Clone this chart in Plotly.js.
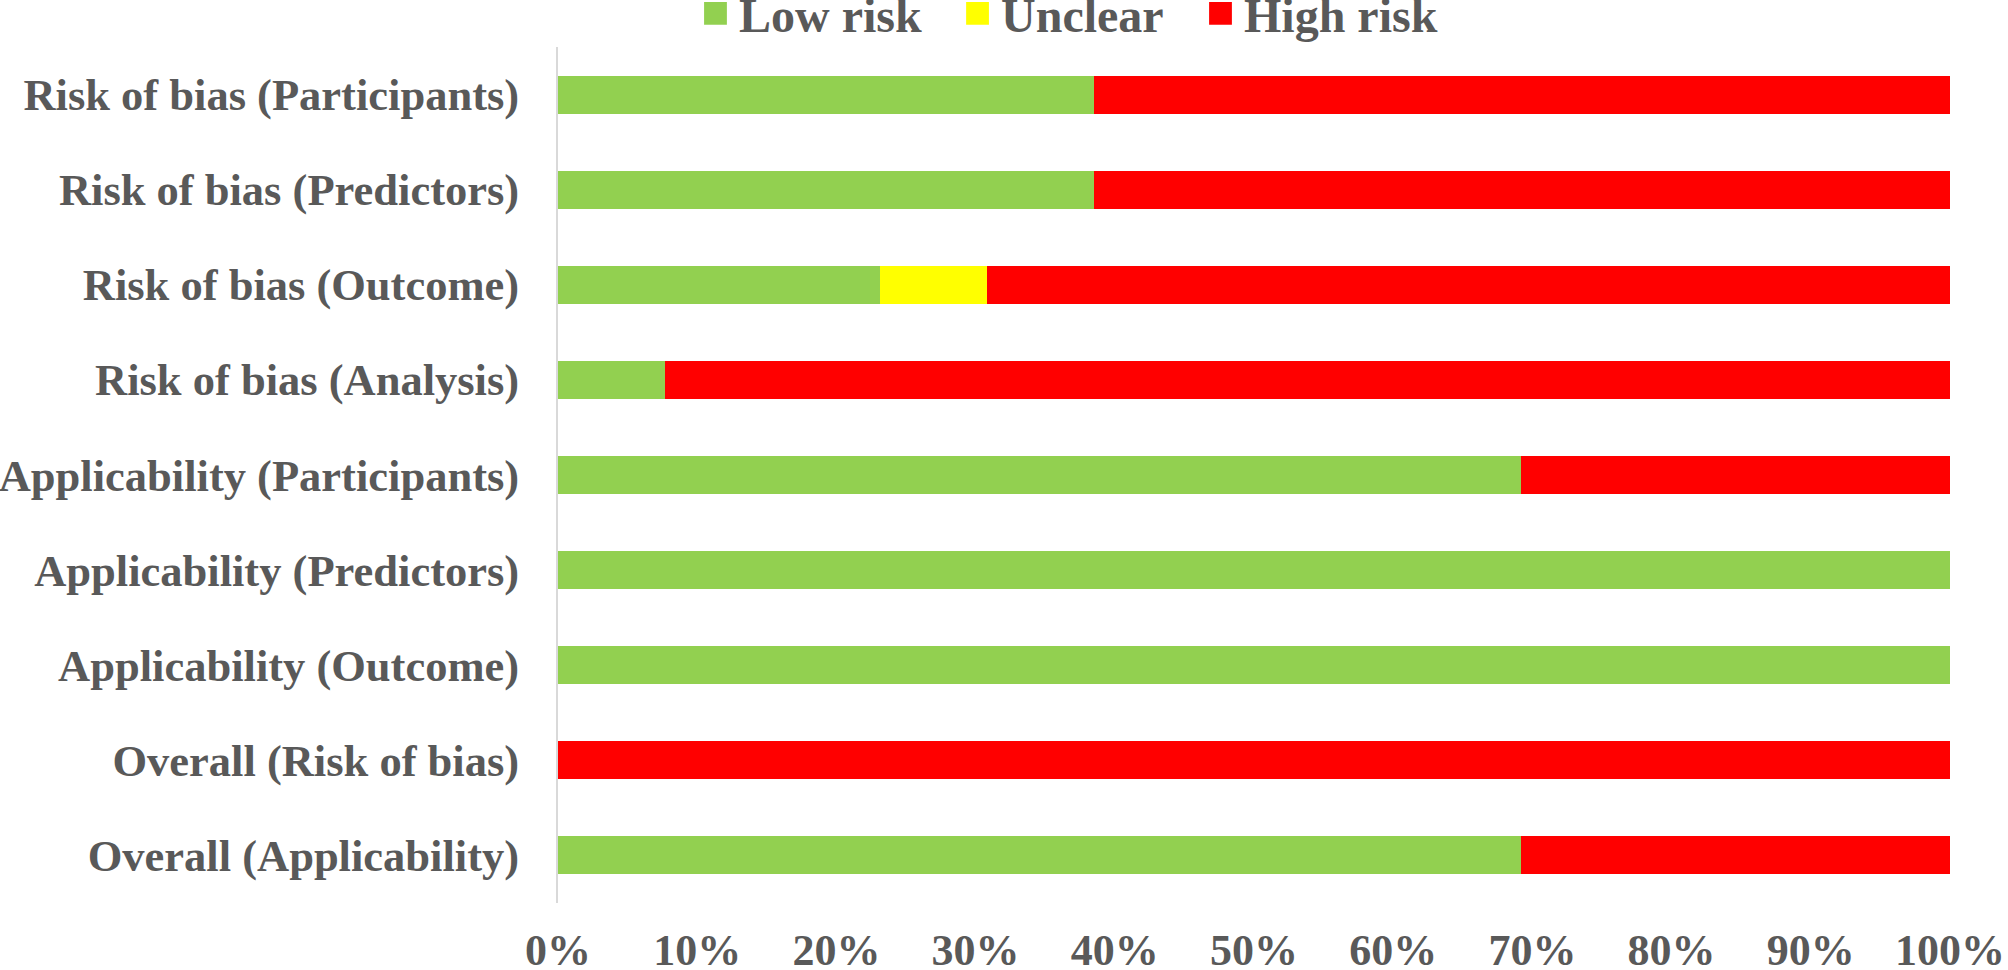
<!DOCTYPE html>
<html>
<head>
<meta charset="utf-8">
<script src="https://cdn.plot.ly/plotly-3.0.1.min.js"></script>
<style>html,body{margin:0;padding:0;background:#fff;}#chart{width:2008px;height:970px;}</style>
</head>
<body>
<div id="chart"></div>
<script>
// Domains (top to bottom)
var categories = [
  "Risk of bias (Participants)",
  "Risk of bias (Predictors)",
  "Risk of bias (Outcome)",
  "Risk of bias (Analysis)",
  "Applicability (Participants)",
  "Applicability (Predictors)",
  "Applicability (Outcome)",
  "Overall (Risk of bias)",
  "Overall (Applicability)"
];
// Percent of studies
var lowRisk  = [38.5, 38.5, 23.1, 7.7, 69.2, 100, 100, 0, 69.2];
var unclear  = [0, 0, 7.7, 0, 0, 0, 0, 0, 0];
var highRisk = [61.5, 61.5, 69.2, 92.3, 30.8, 0, 0, 100, 30.8];
var xTickValues = [0, 10, 20, 30, 40, 50, 60, 70, 80, 90, 100];
var xTickLabels = ["0%", "10%", "20%", "30%", "40%", "50%", "60%", "70%", "80%", "90%", "100%"];

var fontFam = "Liberation Serif, Times New Roman, serif";
var txtColor = "#595959";

function mk(name, vals, color, leg) {
  return {
    type: "bar", orientation: "h", name: name, legend: leg,
    y: categories, x: vals,
    marker: {color: color, line: {width: 0}},
    hoverinfo: "skip"
  };
}
var data = [
  mk("Low risk", lowRisk, "#92d050", "legend"),
  mk("Unclear", unclear, "#ffff00", "legend2"),
  mk("High risk", highRisk, "#ff0000", "legend3")
];

function leg(x) {
  return {
    orientation: "h", xref: "container", yref: "container",
    x: x, xanchor: "left", y: 0.986, yanchor: "middle",
    font: {family: fontFam, size: 48, color: txtColor, weight: "bold"},
    itemclick: false, itemdoubleclick: false,
    bgcolor: "rgba(0,0,0,0)", borderwidth: 0
  };
}

var layout = {
  width: 2008, height: 970,
  margin: {l: 558, r: 58, t: 47, b: 67, pad: 0, autoexpand: false},
  paper_bgcolor: "#ffffff", plot_bgcolor: "#ffffff",
  barmode: "stack", bargap: 0.6,
  showlegend: true,
  legend: leg(0.3481),
  legend2: leg(0.4786),
  legend3: leg(0.5996),
  xaxis: {
    range: [0, 100], tickvals: xTickValues, ticktext: xTickLabels,
    showgrid: false, zeroline: false, showline: false, ticks: "",
    tickfont: {family: fontFam, size: 44, color: txtColor, weight: "bold"},
    ticklabelstandoff: 17, fixedrange: true
  },
  yaxis: {
    type: "category", categoryorder: "array", categoryarray: categories,
    autorange: "reversed",
    showgrid: false, zeroline: false, showline: true, linecolor: "#d9d9d9", linewidth: 2,
    ticks: "",
    tickfont: {family: fontFam, size: 44.5, color: txtColor, weight: "bold"},
    ticklabelstandoff: 28, fixedrange: true
  }
};

Plotly.newPlot("chart", data, layout, {staticPlot: true, displayModeBar: false}).then(function(gd){
  var pts = gd.querySelectorAll(".legendpoints path");
  pts.forEach(function(p){
    var t = p.getAttribute("transform") || "";
    p.setAttribute("transform", t + " translate(-3.5,0) scale(1.9)");
  });
});
</script>
</body>
</html>
